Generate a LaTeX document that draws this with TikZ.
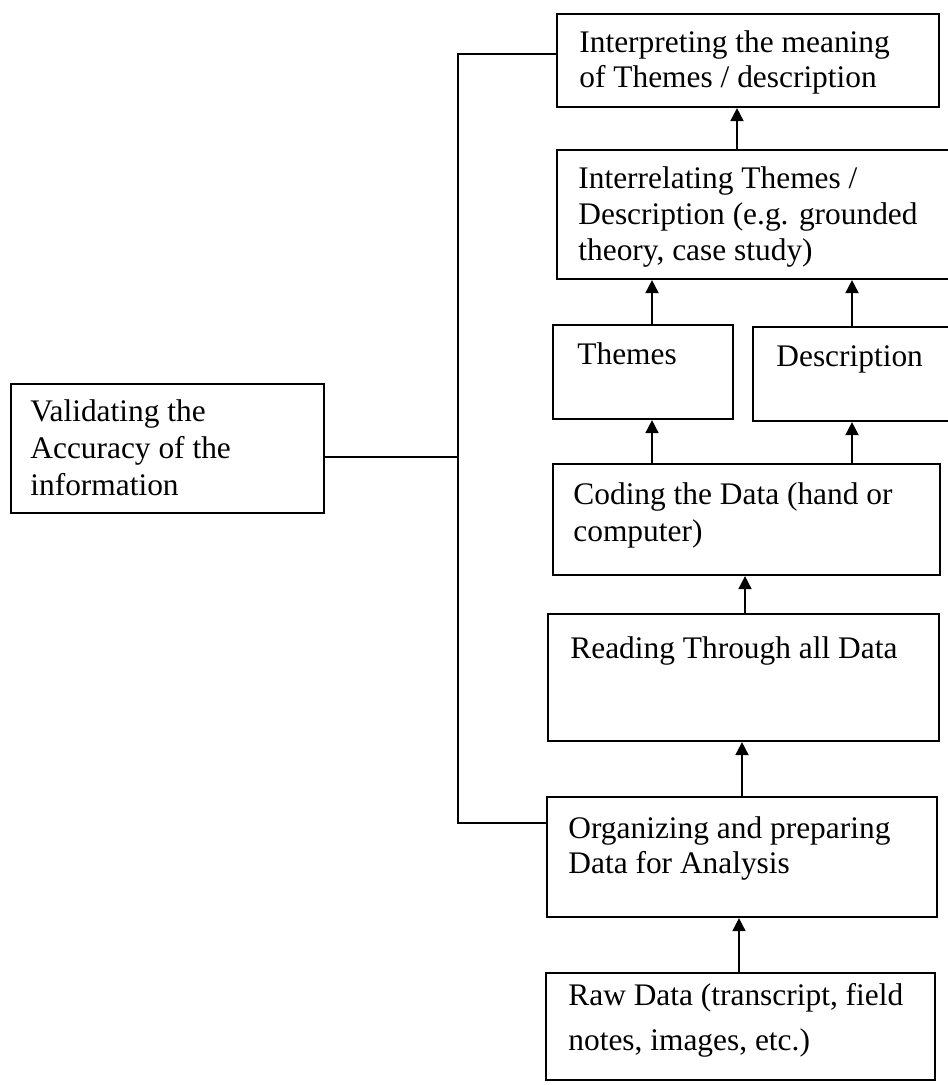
\documentclass[tikz,border=0pt]{standalone}
\usepackage{fontspec}
\setmainfont{Liberation Serif}
\usetikzlibrary{fit,arrows.meta}
\begin{document}
\begin{tikzpicture}[x=0.5pt,y=-0.5pt,
  box/.style={draw, line width=1.1pt, inner sep=0pt},
  txt/.style={inner sep=0pt, anchor=base west, align=left,
    font=\fontsize{15.7pt}{17.5pt}\selectfont},
  conn/.style={line width=0.9pt},
  arr/.style={line width=0.9pt, -{Triangle[width=6.5pt,length=6.5pt]}}]
\useasboundingbox (0,0) rectangle (947,1085);
% boxes
\node[box, fit={(557,14) (939,107)}] (interp) {};
\node[box, fit={(557,150) (960,279)}] (interrel) {};
\node[box, fit={(553,325) (733,419)}] (themes) {};
\node[box, fit={(753,327) (960,421)}] (descr) {};
\node[box, fit={(553,464) (940,575)}] (coding) {};
\node[box, fit={(548,614) (939,741)}] (reading) {};
\node[box, fit={(547,797) (937,917)}] (organ) {};
\node[box, fit={(546,973) (935,1080)}] (raw) {};
\node[box, fit={(11,384) (324,513)}] (valid) {};
% texts (base anchor = baseline of the last line)
\node[txt] (interpT) at (579,88) {Interpreting the meaning\\of Themes / description};
\node[txt, font=\fontsize{15.7pt}{18pt}\selectfont] (interrelT) at (578,261) {Interrelating Themes /\\Description (e.g. grounded\\theory, case study)};
\node[txt] (themesT) at (577,364) {Themes};
\node[txt] (descrT) at (776,366) {Description};
\node[txt, font=\fontsize{15.7pt}{18.5pt}\selectfont] (codingT) at (573,541) {Coding the Data (hand or\\computer)};
\node[txt] (readingT) at (570,658) {Reading Through all Data};
\node[txt] (organT) at (568,873) {Organizing and preparing\\Data for Analysis};
\node[txt, font=\fontsize{15.7pt}{22.5pt}\selectfont] (rawT) at (568,1050) {Raw Data (transcript, field\\notes, images, etc.)};
\node[txt, font=\fontsize{15.7pt}{18.3pt}\selectfont] (validT) at (30,495) {Validating the\\Accuracy of the\\information};
% x positions of arrows
\coordinate (xa) at (737,0);
\coordinate (xb) at (652,0);
\coordinate (xc) at (852,0);
\coordinate (xd) at (745,0);
\coordinate (xe) at (742,0);
\coordinate (xf) at (739,0);
% arrows
\draw[arr] (interrel.north -| xa) -- (interp.south -| xa);
\draw[arr] (themes.north -| xb) -- (interrel.south -| xb);
\draw[arr] (descr.north -| xc) -- (interrel.south -| xc);
\draw[arr] (coding.north -| xb) -- (themes.south -| xb);
\draw[arr] (coding.north -| xc) -- (descr.south -| xc);
\draw[arr] (reading.north -| xd) -- (coding.south -| xd);
\draw[arr] (organ.north -| xe) -- (reading.south -| xe);
\draw[arr] (raw.north -| xf) -- (organ.south -| xf);
% feedback spine
\coordinate (sTop) at (458,54);
\coordinate (sMid) at (458,457);
\coordinate (sBot) at (458,823);
\draw[conn] (interp.west |- sTop) -- (sTop) -- (sBot) -- (organ.west |- sBot);
\draw[conn] (valid.east |- sMid) -- (sMid);
\end{tikzpicture}
\end{document}
